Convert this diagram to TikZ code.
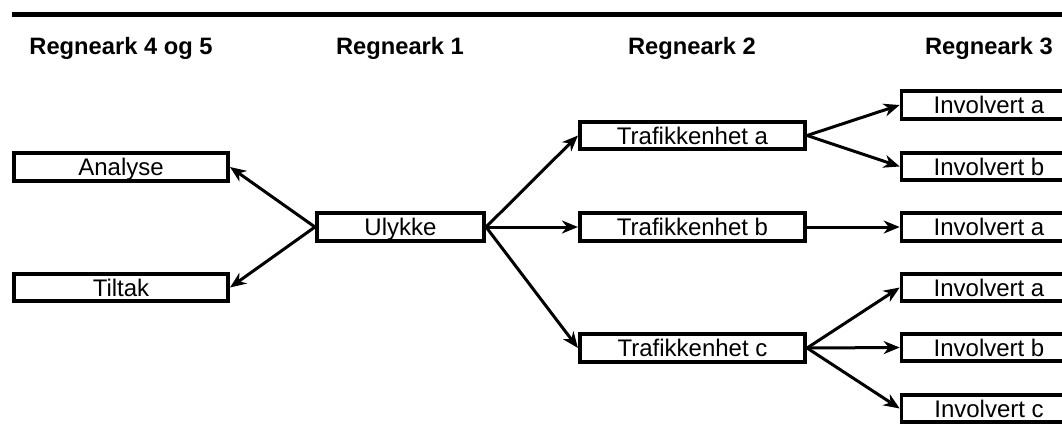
\documentclass[tikz,border=0pt]{standalone}
\usepackage{fontspec}
\setmainfont{Liberation Sans}
\usetikzlibrary{arrows.meta}
\begin{document}
\begin{tikzpicture}[x=1pt,y=-1pt,
  box/.style={draw, line width=3.6pt, inner sep=0pt, minimum height=27.5pt,
    text height=17.2pt, text depth=0pt, font=\fontsize{24}{28}\selectfont},
  head/.style={anchor=base, inner sep=0pt, font=\fontsize{23.7}{28}\selectfont\bfseries},
  conn/.style={line width=3pt, -{Stealth[length=16pt,width=13pt,inset=5pt]}}]
\useasboundingbox (0,0) rectangle (1062,432);
\clip (0,0) rectangle (1062,432);
\draw[line width=5.5pt] (12,14.5) -- (1070,14.5);
\node[head] (h45) at (121,54) {Regneark 4 og 5};
\node[head] (h1) at (400,54) {Regneark 1};
\node[head] (h2) at (692,54) {Regneark 2};
\node[head] (h3) at (989,54) {Regneark 3};
\node[box, minimum width=214.5pt] (ana) at (121,167) {Analyse};
\node[box, minimum width=214.5pt] (til) at (121,287.5) {Tiltak};
\node[box, minimum width=167.5pt, minimum height=28.5pt] (uly) at (400.5,227) {Ulykke};
\node[box, minimum width=225.5pt] (ta) at (692.5,135.5) {Trafikkenhet a};
\node[box, minimum width=225.5pt, minimum height=28.5pt] (tb) at (692.5,227) {Trafikkenhet b};
\node[box, minimum width=225.5pt] (tc) at (692.5,348) {Trafikkenhet c};
\node[box, minimum width=175pt] (i1) at (989,105) {Involvert a};
\node[box, minimum width=175pt] (i2) at (989,166.5) {Involvert b};
\node[box, minimum width=175pt, minimum height=28.5pt] (i3) at (989,227) {Involvert a};
\node[box, minimum width=175pt] (i4) at (989,287.5) {Involvert a};
\node[box, minimum width=175pt] (i5) at (989,347.5) {Involvert b};
\node[box, minimum width=175pt] (i6) at (989,408.5) {Involvert c};
\draw[conn] (uly.west) -- (ana.east);
\draw[conn] (uly.west) -- (til.east);
\draw[conn] (uly.east) -- (ta.west);
\draw[conn] (uly.east) -- (tb.west);
\draw[conn] (uly.east) -- (tc.west);
\draw[conn] (ta.east) -- (i1.west);
\draw[conn] (ta.east) -- (i2.west);
\draw[conn] (tb.east) -- (i3.west);
\draw[conn] (tc.east) -- (i4.west);
\draw[conn] (tc.east) -- (i5.west);
\draw[conn] (tc.east) -- (i6.west);
\end{tikzpicture}
\end{document}
